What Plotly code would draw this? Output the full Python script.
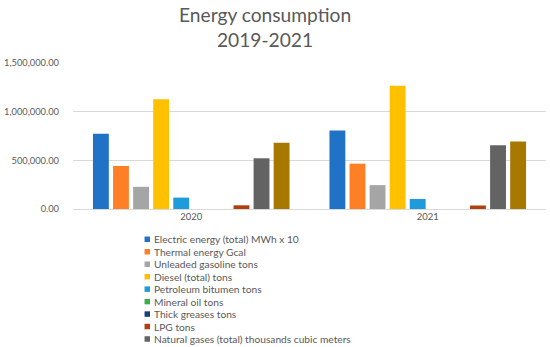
import plotly.graph_objects as go

years = ["2020", "2021"]
series_names = [
    "Electric energy (total) MWh x 10",
    "Thermal energy Gcal",
    "Unleaded gasoline tons",
    "Diesel (total) tons",
    "Petroleum bitumen tons",
    "Mineral oil tons",
    "Thick greases tons",
    "LPG tons",
    "Natural gases (total) thousands cubic meters",
    "",
]
electric = [773000, 807000]
thermal = [442000, 466000]
unleaded = [228000, 245000]
diesel = [1128000, 1266000]
bitumen = [117000, 103000]
mineral_oil = [0, 0]
greases = [0, 0]
lpg = [38000, 36000]
natural_gas = [521000, 655000]
tenth = [680000, 693000]

values = [electric, thermal, unleaded, diesel, bitumen, mineral_oil,
          greases, lpg, natural_gas, tenth]
colors = ["#1F72C6", "#FF7F27", "#A5A5A5", "#FFC000", "#1E9BDA",
          "#3DAE49", "#16427A", "#B0400F", "#636363", "#A67800"]

W, H = 550, 347
L, R, T, B = 70, 4, 63, 138
pw, ph = W - L - R, H - T - B

fig = go.Figure()
for name, vals, col in zip(series_names, values, colors):
    fig.add_trace(go.Bar(x=years, y=vals, name=name, marker_color=col,
                         marker_line_width=0, showlegend=False))

fam = "Lato, sans-serif"
txt_col = "#595959"

shapes = []
annotations = []
for i, (name, col) in enumerate(zip(series_names[:9], colors[:9])):
    ypx = 239.3 + i * 12.46
    yp = (H - B - ypx) / ph
    x0 = (142 - L) / pw
    x1 = (147.5 - L) / pw
    shapes.append(dict(type="rect", xref="paper", yref="paper",
                       x0=x0, x1=x1, y0=yp - 2.75 / ph, y1=yp + 2.75 / ph,
                       fillcolor=col, line_width=0))
    annotations.append(dict(text=name, xref="paper", yref="paper",
                            x=(150 - L) / pw, y=yp, xanchor="left",
                            yanchor="middle", showarrow=False,
                            font=dict(size=10.2, color=txt_col, family=fam)))

annotations.append(dict(text="Energy consumption<br>2019-2021",
                        xref="paper", yref="paper",
                        x=(263 - L) / pw, y=(H - B - 1) / ph,
                        xanchor="center", yanchor="top", showarrow=False,
                        font=dict(size=19.2, color=txt_col, family=fam)))

fig.update_layout(
    width=W, height=H,
    margin=dict(l=L, r=R, t=T, b=B),
    paper_bgcolor="white", plot_bgcolor="white",
    barmode="group", bargap=0.151, bargroupgap=0.21,
    shapes=shapes, annotations=annotations,
    font=dict(family=fam, color=txt_col, size=10),
)
fig.update_yaxes(range=[0, 1500000], dtick=500000, tickformat=",.2f",
                 gridcolor="#D9D9D9", gridwidth=1, zeroline=True,
                 zerolinecolor="#D9D9D9", zerolinewidth=1, showline=False,
                 ticks="", ticklabelstandoff=13,
                 tickfont=dict(size=9.3, color=txt_col, family=fam))
fig.update_xaxes(showline=False, ticks="", showgrid=False,
                 tickfont=dict(size=9.5, color=txt_col, family=fam))

fig.write_html("out.html", config={"displayModeBar": False},
               post_script="document.body.style.margin='0';document.body.style.padding='0';")
